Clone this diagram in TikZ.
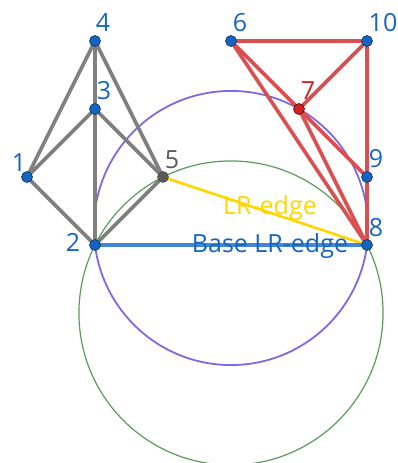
\documentclass[tikz,border=0pt]{standalone}
\usepackage{fontspec}
\setmainfont{Open Sans}
\begin{document}
\begin{tikzpicture}[x=1pt,y=1pt]
\definecolor{nblue}{RGB}{21,101,192}
\definecolor{nblueD}{RGB}{13,50,100}
\definecolor{egray}{RGB}{128,128,128}
\definecolor{ered}{RGB}{218,80,80}
\definecolor{ebase}{RGB}{66,135,214}
\definecolor{eyel}{RGB}{255,215,0}
\definecolor{cpur}{RGB}{125,105,225}
\definecolor{cgrn}{RGB}{90,155,90}
\definecolor{ngray}{RGB}{90,90,90}
\definecolor{nred}{RGB}{205,35,35}
\tikzset{
  vtx/.style={circle,fill=nblue,draw=nblueD,line width=0.6pt,minimum size=11pt,inner sep=0pt},
  lbl/.style={anchor=base,inner sep=0pt,font=\fontsize{25}{28}\selectfont,text=nblue},
  gedge/.style={draw=egray,line width=3.6pt},
  redge/.style={draw=ered,line width=3.6pt},
}
\useasboundingbox (0,0) rectangle (398,463);
% circles
\draw[cgrn,line width=1.2pt] (231,150) circle (152.05);
\draw[cpur,line width=1.8pt] (231,235) circle (137.06);
% vertices (coordinates)
\coordinate (p4) at (95,422);
\coordinate (p3) at (95,354);
\coordinate (p1) at (27,286);
\coordinate (p5) at (163,286);
\coordinate (p2) at (95,218);
\coordinate (p6) at (231,422);
\coordinate (p10) at (367,422);
\coordinate (p7) at (299,354);
\coordinate (p9) at (367,286);
\coordinate (p8) at (367,218);
% gray edges
\draw[gedge] (p4) -- (p1);
\draw[gedge] (p4) -- (p3);
\draw[gedge] (p4) -- (p5);
\draw[gedge] (p3) -- (p1);
\draw[gedge] (p3) -- (p5);
\draw[gedge] (p3) -- (p2);
\draw[gedge] (p1) -- (p2);
\draw[gedge] (p5) -- (p2);
% red edges
\draw[redge] (p6) -- (p10);
\draw[redge] (p10) -- (p9);
\draw[redge] (p9) -- (p8);
\draw[redge] (p6) -- (p7);
\draw[redge] (p7) -- (p10);
\draw[redge] (p6) -- (p8);
\draw[redge] (p7) -- (p8);
\draw[redge] (p7) -- (p9);
% LR edges
\draw[eyel,line width=2.6pt] (p5) -- (p8);
\draw[ebase,line width=3.2pt] (p2) -- (p8);
% nodes
\node[vtx] (n4) at (p4) {};
\node[vtx] (n3) at (p3) {};
\node[vtx] (n1) at (p1) {};
\node[vtx,fill=ngray,draw=black!70] (n5) at (p5) {};
\node[vtx] (n2) at (p2) {};
\node[vtx] (n6) at (p6) {};
\node[vtx] (n10) at (p10) {};
\node[vtx,fill=nred,draw=black!60!red] (n7) at (p7) {};
\node[vtx] (n9) at (p9) {};
\node[vtx] (n8) at (p8) {};
% labels
\node[lbl] (l4) at (103,431) {4};
\node[lbl] (l3) at (104,363) {3};
\node[lbl] (l1) at (19,291) {1};
\node[lbl,text=ngray] (l5) at (172,294) {5};
\node[lbl] (l2) at (73,211) {2};
\node[lbl] (l6) at (240,431) {6};
\node[lbl] (l10) at (383,431) {10};
\node[lbl,text=nred] (l7) at (308,363) {7};
\node[lbl] (l9) at (376,295) {9};
\node[lbl] (l8) at (376,226) {8};
\node[lbl,text=eyel] (lr) at (270,248) {LR-edge};
\node[lbl] (blr) at (270,210) {Base LR-edge};
\end{tikzpicture}
\end{document}
